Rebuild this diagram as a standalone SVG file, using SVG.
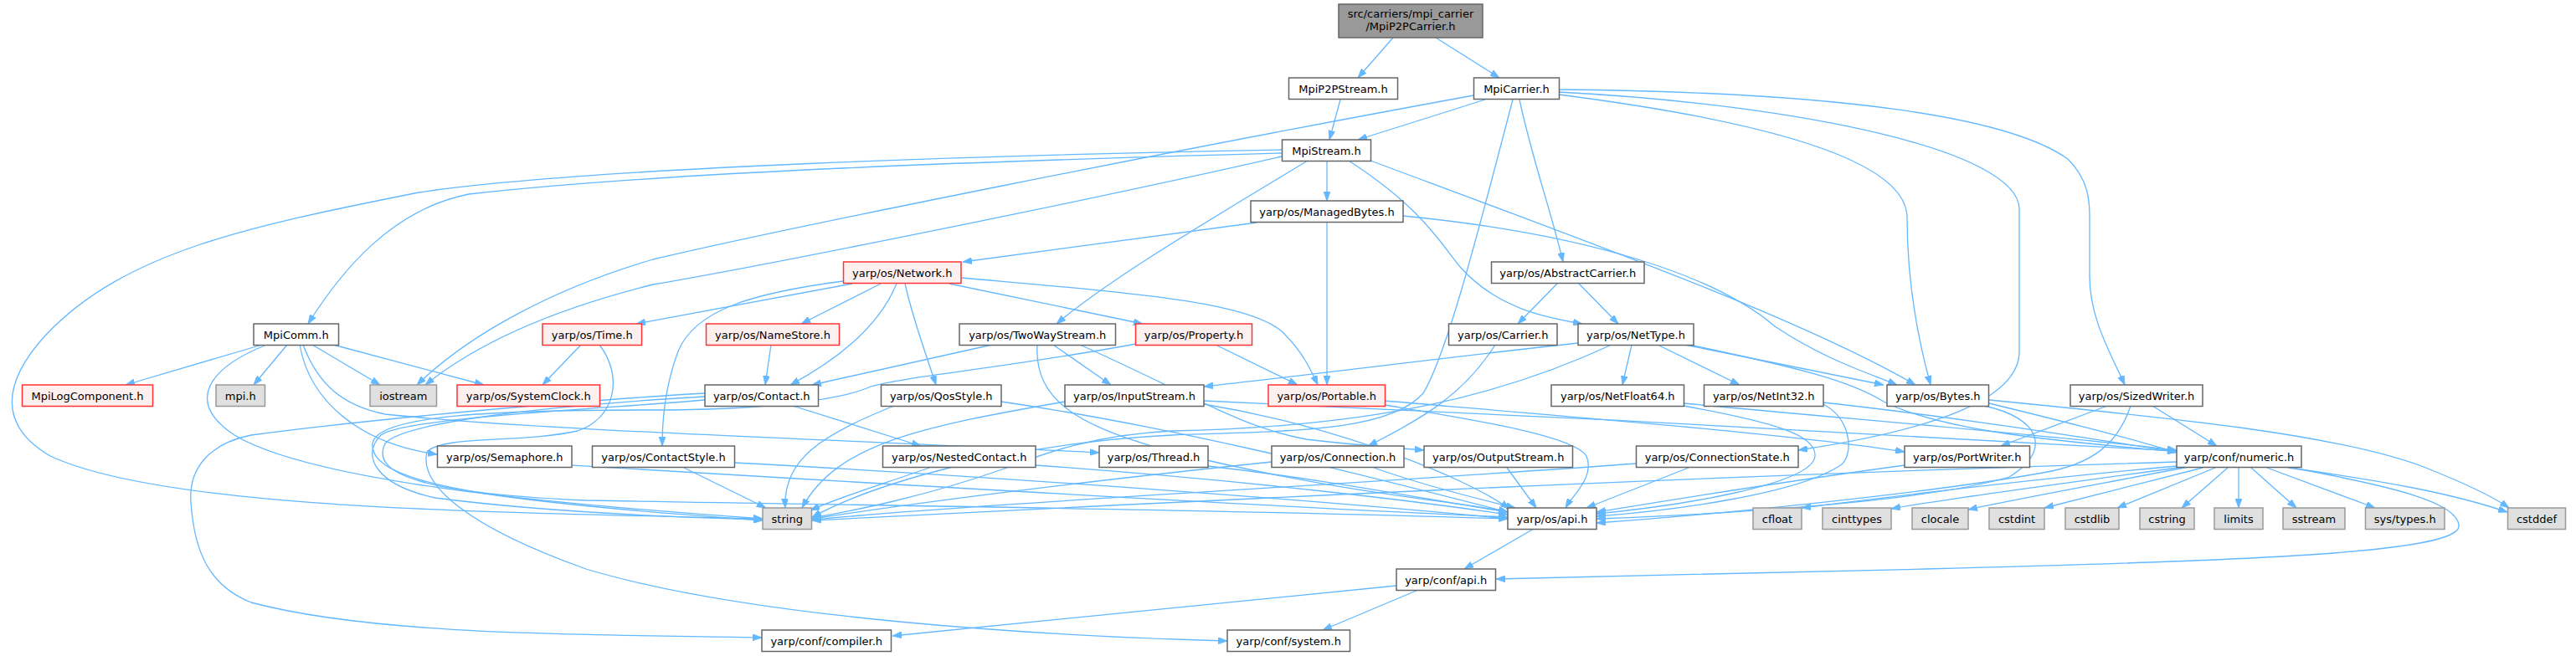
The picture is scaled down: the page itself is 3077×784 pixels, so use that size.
<svg xmlns="http://www.w3.org/2000/svg" width="3077" height="784" viewBox="0 0 3077 784">
<style>
.n rect{fill:#ffffff;stroke:#666666;stroke-width:1.5}
.r rect{fill:#FFF0F0;stroke:#FF3333;stroke-width:1.5}
.g rect{fill:#E0E0E0;stroke:#999999;stroke-width:1.5}
.root rect{fill:#999999;stroke:#666666;stroke-width:1.5}
text{font-family:"DejaVu Sans","Liberation Sans",sans-serif;font-size:13px;text-anchor:middle;fill:#000000}
#edges path{fill:none;stroke:#63B8FF;stroke-width:1.3;marker-end:url(#a)}
</style>
<defs>
<marker id="a" viewBox="0 0 11 8" markerWidth="11" markerHeight="8" refX="11" refY="4" orient="auto" markerUnits="userSpaceOnUse"><path d="M0,0 L11,4 L0,8 z" fill="#63B8FF" stroke="#63B8FF" stroke-width="0.8"/></marker>
</defs>
<rect width="3077" height="784" fill="#ffffff"/>
<g id="edges">
<path d="M1664,45 L1622,93"/>
<path d="M1715,45 L1791,93"/>
<path d="M1601,119 L1588,167"/>
<path d="M1774,119 L1622,167"/>
<path d="M1760,114 C1400,180 950,270 780,310 C660,345 560,400 498,460"/>
<path d="M1815,119 C1830,190 1855,260 1867,313"/>
<path d="M1807,119 C1770,260 1730,420 1700,470 C1660,515 1550,515 1400,520 C1200,530 1040,580 970,618"/>
<path d="M1862,113 C2150,150 2278,200 2278,260 C2278,350 2295,420 2306,460"/>
<path d="M1862,110 C2150,125 2412,180 2412,250 L2412,420 C2412,480 2300,515 2148,538"/>
<path d="M1862,107 C2200,110 2400,140 2470,190 C2495,215 2496,240 2496,260 L2496,330 C2496,380 2520,420 2538,460"/>
<path d="M1531,183 C1200,192 800,205 560,232 C470,250 410,320 368,387"/>
<path d="M1531,187 C1300,240 900,320 780,340 C660,370 570,410 508,460"/>
<path d="M1531,179 C1200,185 700,200 500,230 C300,270 150,300 55,400 C0,460 0,510 60,545 C200,610 600,612 911,620"/>
<path d="M1585,192 L1585,240"/>
<path d="M1562,192 C1450,260 1330,330 1262,387"/>
<path d="M1611,192 C1700,250 1720,290 1745,320 C1790,370 1850,380 1890,387"/>
<path d="M1637,192 C1900,290 2150,380 2288,460"/>
<path d="M1501,266 L1150,313"/>
<path d="M1585,265 L1585,460"/>
<path d="M1676,258 C1900,280 2050,330 2120,390 C2180,430 2230,445 2266,460"/>
<path d="M1860,339 L1813,387"/>
<path d="M1886,339 L1933,387"/>
<path d="M1018,339 L760,387"/>
<path d="M1007,336 C900,350 830,370 810,420 C795,460 791,500 791,533"/>
<path d="M1052,339 L957,387"/>
<path d="M1071,339 C1050,390 1000,430 944,460"/>
<path d="M1081,339 C1090,380 1105,420 1118,460"/>
<path d="M1134,339 L1365,387"/>
<path d="M1148,332 C1350,350 1500,360 1535,400 C1555,420 1565,440 1574,460"/>
<path d="M313,412 L150,460"/>
<path d="M343,412 L303,460"/>
<path d="M373,412 L454,460"/>
<path d="M398,412 L578,460"/>
<path d="M358,412 C370,480 430,530 522,543"/>
<path d="M362,412 C380,460 410,485 460,495 C650,515 1000,525 1313,541"/>
<path d="M316,413 C250,440 220,480 280,520 C380,580 700,605 911,620"/>
<path d="M694,412 L648,460"/>
<path d="M716,412 C745,450 735,500 690,515 C620,530 530,520 510,540 C500,580 560,630 700,680 C900,740 1250,760 1466,766"/>
<path d="M921,412 L914,460"/>
<path d="M1185,412 L970,460"/>
<path d="M1258,412 L1327,460"/>
<path d="M1290,412 C1420,470 1480,510 1560,525 C1620,532 1660,535 1701,538"/>
<path d="M1239,412 C1235,480 1290,510 1400,540 C1600,590 1750,600 1801,612"/>
<path d="M1452,412 L1550,460"/>
<path d="M1357,411 C1200,440 1080,450 1040,462 C1000,480 900,490 780,490 C600,490 450,495 445,530 C440,580 600,600 911,622"/>
<path d="M1786,412 C1750,470 1700,500 1634,533"/>
<path d="M1885,410 C1700,430 1550,450 1438,462"/>
<path d="M1925,412 C1800,470 1650,510 1400,515 C1300,520 1240,545 1200,560 C1100,595 1020,610 970,619"/>
<path d="M1949,412 L1938,460"/>
<path d="M1980,412 L2078,460"/>
<path d="M2012,412 L2250,460"/>
<path d="M2018,412 C2150,440 2210,455 2250,480 C2330,520 2500,530 2600,540"/>
<path d="M2517,485 L2390,533"/>
<path d="M2571,485 L2648,533"/>
<path d="M2545,485 C2530,530 2500,555 2440,565 C2300,590 2050,615 1907,625"/>
<path d="M947,485 L1100,533"/>
<path d="M842,478 C700,490 480,500 455,520 C430,545 450,580 520,595 C650,612 800,618 911,621"/>
<path d="M842,470 C700,478 450,500 300,520 C250,530 225,560 228,600 C232,660 250,700 300,720 C450,760 700,758 910,762"/>
<path d="M842,474 C650,485 480,505 460,530 C440,570 520,590 700,598 C1100,605 1500,610 1801,620"/>
<path d="M1068,485 C980,520 935,550 938,607"/>
<path d="M1196,480 C1400,510 1600,560 1801,612"/>
<path d="M1272,480 C1100,510 1000,530 958,607"/>
<path d="M1438,483 C1600,510 1750,570 1803,608"/>
<path d="M1438,479 C1800,495 2300,520 2600,539"/>
<path d="M1654,479 C1900,500 2150,520 2275,540"/>
<path d="M1654,484 C1750,500 1880,520 1895,545 C1905,570 1880,590 1870,607"/>
<path d="M2011,485 C2120,505 2170,520 2168,545 C2165,580 2000,605 1907,614"/>
<path d="M2011,482 C2200,500 2450,520 2600,538"/>
<path d="M2178,483 C2210,500 2215,540 2200,555 C2150,590 2000,610 1907,617"/>
<path d="M2178,481 C2350,500 2500,525 2600,540"/>
<path d="M2370,485 C2440,500 2450,540 2400,570 C2300,600 2050,615 1907,620"/>
<path d="M2376,482 C2450,500 2550,525 2600,541"/>
<path d="M2376,478 C2600,500 2800,520 2900,560 C2950,580 2980,595 2997,607"/>
<path d="M683,556 C1000,575 1500,605 1801,618"/>
<path d="M817,559 L915,607"/>
<path d="M877,553 C1200,570 1600,600 1801,620"/>
<path d="M1110,559 C1050,580 1000,595 968,610"/>
<path d="M1237,556 C1500,575 1700,600 1801,615"/>
<path d="M1443,557 C1600,575 1720,600 1801,612"/>
<path d="M1519,552 C1300,575 1100,600 970,620"/>
<path d="M1641,559 C1700,580 1760,595 1810,607"/>
<path d="M1800,559 L1835,607"/>
<path d="M1954,554 C1600,580 1200,600 970,621"/>
<path d="M2017,559 L1895,607"/>
<path d="M2275,556 C2100,580 1950,605 1907,612"/>
<path d="M2600,552 C2000,570 1400,600 970,622"/>
<path d="M2600,557 C2400,575 2250,595 2152,607"/>
<path d="M2608,558 C2450,580 2330,595 2259,608"/>
<path d="M2614,558 C2500,580 2400,598 2351,609"/>
<path d="M2631,559 L2442,607"/>
<path d="M2646,559 L2529,607"/>
<path d="M2661,559 L2606,607"/>
<path d="M2674,559 L2674,607"/>
<path d="M2689,559 L2743,607"/>
<path d="M2708,559 L2837,607"/>
<path d="M2733,559 C2850,575 2930,590 2995,612"/>
<path d="M2738,559 C2850,580 2940,600 2937,630 C2930,660 2700,670 2300,680 C2100,685 1900,690 1787,692"/>
<path d="M1832,632 L1749,680"/>
<path d="M1668,700 C1400,725 1200,745 1066,760"/>
<path d="M1694,705 L1580,753"/>
</g>
<g id="n_root" class="root"><rect x="1599" y="5" width="172" height="40"/><text x="1685" y="21">src/carriers/mpi_carrier</text><text x="1685" y="36">/MpiP2PCarrier.h</text></g>
<g id="n_MpiP2PStream" class="n"><rect x="1539.5" y="93" width="130" height="25.5"/><text x="1604.5" y="111">MpiP2PStream.h</text></g>
<g id="n_MpiCarrier" class="n"><rect x="1760.5" y="93" width="102" height="25.5"/><text x="1811.5" y="111">MpiCarrier.h</text></g>
<g id="n_MpiStream" class="n"><rect x="1531.5" y="167" width="106" height="25.5"/><text x="1584.5" y="185">MpiStream.h</text></g>
<g id="n_ManagedBytes" class="n"><rect x="1494" y="240" width="182" height="25.5"/><text x="1585" y="258">yarp/os/ManagedBytes.h</text></g>
<g id="n_AbstractCarrier" class="n"><rect x="1781.5" y="313" width="182.5" height="25.5"/><text x="1872.75" y="331">yarp/os/AbstractCarrier.h</text></g>
<g id="n_Network" class="r"><rect x="1007.5" y="313" width="140.5" height="25.5"/><text x="1077.75" y="331">yarp/os/Network.h</text></g>
<g id="n_MpiComm" class="n"><rect x="303" y="387" width="101.5" height="25.5"/><text x="353.75" y="405">MpiComm.h</text></g>
<g id="n_Time" class="r"><rect x="648" y="387" width="118.5" height="25.5"/><text x="707.25" y="405">yarp/os/Time.h</text></g>
<g id="n_NameStore" class="r"><rect x="843.5" y="387" width="159" height="25.5"/><text x="923" y="405">yarp/os/NameStore.h</text></g>
<g id="n_TwoWayStream" class="n"><rect x="1146" y="387" width="186.5" height="25.5"/><text x="1239.25" y="405">yarp/os/TwoWayStream.h</text></g>
<g id="n_Property" class="r"><rect x="1356.5" y="387" width="139" height="25.5"/><text x="1426" y="405">yarp/os/Property.h</text></g>
<g id="n_Carrier" class="n"><rect x="1730.5" y="387" width="129.5" height="25.5"/><text x="1795.25" y="405">yarp/os/Carrier.h</text></g>
<g id="n_NetType" class="n"><rect x="1885" y="387" width="138" height="25.5"/><text x="1954" y="405">yarp/os/NetType.h</text></g>
<g id="n_MpiLogComponent" class="r"><rect x="26.5" y="460" width="156" height="25.5"/><text x="104.5" y="478">MpiLogComponent.h</text></g>
<g id="n_mpi" class="g"><rect x="258" y="460" width="58.5" height="25.5"/><text x="287.25" y="478">mpi.h</text></g>
<g id="n_iostream" class="g"><rect x="442" y="460" width="79.5" height="25.5"/><text x="481.75" y="478">iostream</text></g>
<g id="n_SystemClock" class="r"><rect x="546" y="460" width="170.5" height="25.5"/><text x="631.25" y="478">yarp/os/SystemClock.h</text></g>
<g id="n_Contact" class="n"><rect x="842" y="460" width="135.5" height="25.5"/><text x="909.75" y="478">yarp/os/Contact.h</text></g>
<g id="n_QosStyle" class="n"><rect x="1052.5" y="460" width="143.5" height="25.5"/><text x="1124.25" y="478">yarp/os/QosStyle.h</text></g>
<g id="n_InputStream" class="n"><rect x="1272" y="460" width="166" height="25.5"/><text x="1355" y="478">yarp/os/InputStream.h</text></g>
<g id="n_Portable" class="r"><rect x="1515" y="460" width="139.5" height="25.5"/><text x="1584.75" y="478">yarp/os/Portable.h</text></g>
<g id="n_NetFloat64" class="n"><rect x="1853" y="460" width="158.5" height="25.5"/><text x="1932.25" y="478">yarp/os/NetFloat64.h</text></g>
<g id="n_NetInt32" class="n"><rect x="2035.5" y="460" width="142.5" height="25.5"/><text x="2106.75" y="478">yarp/os/NetInt32.h</text></g>
<g id="n_Bytes" class="n"><rect x="2254" y="460" width="121.5" height="25.5"/><text x="2314.75" y="478">yarp/os/Bytes.h</text></g>
<g id="n_SizedWriter" class="n"><rect x="2473" y="460" width="158" height="25.5"/><text x="2552" y="478">yarp/os/SizedWriter.h</text></g>
<g id="n_Semaphore" class="n"><rect x="522.5" y="533" width="160.5" height="25.5"/><text x="602.75" y="551">yarp/os/Semaphore.h</text></g>
<g id="n_ContactStyle" class="n"><rect x="707.5" y="533" width="170" height="25.5"/><text x="792.5" y="551">yarp/os/ContactStyle.h</text></g>
<g id="n_NestedContact" class="n"><rect x="1054.5" y="533" width="182.5" height="25.5"/><text x="1145.75" y="551">yarp/os/NestedContact.h</text></g>
<g id="n_Thread" class="n"><rect x="1313" y="533" width="130" height="25.5"/><text x="1378" y="551">yarp/os/Thread.h</text></g>
<g id="n_Connection" class="n"><rect x="1519" y="533" width="158" height="25.5"/><text x="1598" y="551">yarp/os/Connection.h</text></g>
<g id="n_OutputStream" class="n"><rect x="1701" y="533" width="177.5" height="25.5"/><text x="1789.75" y="551">yarp/os/OutputStream.h</text></g>
<g id="n_ConnectionState" class="n"><rect x="1954.5" y="533" width="193.5" height="25.5"/><text x="2051.25" y="551">yarp/os/ConnectionState.h</text></g>
<g id="n_PortWriter" class="n"><rect x="2275" y="533" width="149.5" height="25.5"/><text x="2349.75" y="551">yarp/os/PortWriter.h</text></g>
<g id="n_numeric" class="n"><rect x="2600" y="533" width="149" height="25.5"/><text x="2674.5" y="551">yarp/conf/numeric.h</text></g>
<g id="n_string" class="g"><rect x="911" y="607" width="58.5" height="25.5"/><text x="940.25" y="625">string</text></g>
<g id="n_os_api" class="n"><rect x="1801" y="607" width="106" height="25.5"/><text x="1854" y="625">yarp/os/api.h</text></g>
<g id="n_cfloat" class="g"><rect x="2094" y="607" width="58" height="25.5"/><text x="2123" y="625">cfloat</text></g>
<g id="n_cinttypes" class="g"><rect x="2177" y="607" width="82" height="25.5"/><text x="2218" y="625">cinttypes</text></g>
<g id="n_clocale" class="g"><rect x="2284" y="607" width="67" height="25.5"/><text x="2317.5" y="625">clocale</text></g>
<g id="n_cstdint" class="g"><rect x="2376" y="607" width="66" height="25.5"/><text x="2409" y="625">cstdint</text></g>
<g id="n_cstdlib" class="g"><rect x="2467" y="607" width="64" height="25.5"/><text x="2499" y="625">cstdlib</text></g>
<g id="n_cstring" class="g"><rect x="2556" y="607" width="65" height="25.5"/><text x="2588.5" y="625">cstring</text></g>
<g id="n_limits" class="g"><rect x="2645" y="607" width="58" height="25.5"/><text x="2674" y="625">limits</text></g>
<g id="n_sstream" class="g"><rect x="2727" y="607" width="74" height="25.5"/><text x="2764" y="625">sstream</text></g>
<g id="n_systypes" class="g"><rect x="2825.5" y="607" width="94.5" height="25.5"/><text x="2872.75" y="625">sys/types.h</text></g>
<g id="n_cstddef" class="g"><rect x="2995.5" y="607" width="69" height="25.5"/><text x="3030" y="625">cstddef</text></g>
<g id="n_conf_api" class="n"><rect x="1668" y="680" width="118.5" height="25.5"/><text x="1727.25" y="698">yarp/conf/api.h</text></g>
<g id="n_compiler" class="n"><rect x="910" y="753" width="154.5" height="25.5"/><text x="987.25" y="771">yarp/conf/compiler.h</text></g>
<g id="n_system" class="n"><rect x="1466" y="753" width="146.5" height="25.5"/><text x="1539.25" y="771">yarp/conf/system.h</text></g>
</svg>
